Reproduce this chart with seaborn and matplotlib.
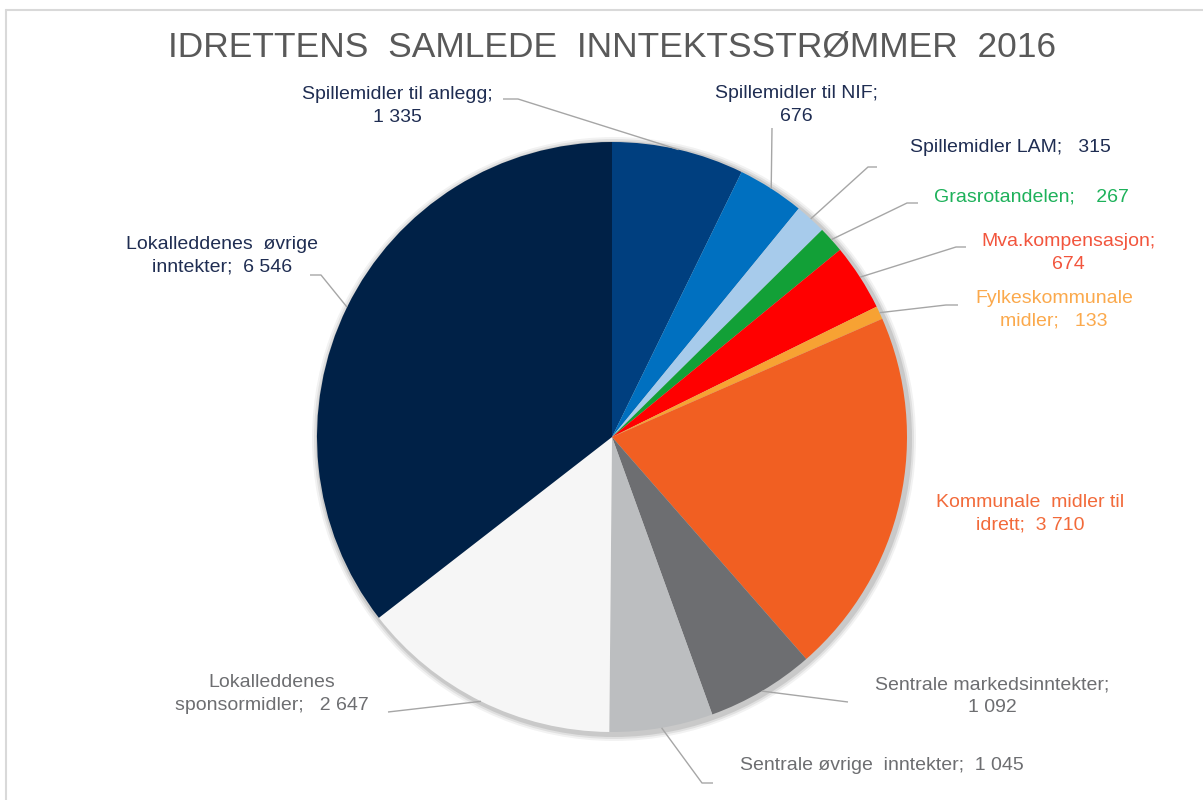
import numpy as np
import seaborn as sns
import matplotlib.pyplot as plt
from matplotlib.lines import Line2D

# data (mill. kr)
categories = ['Spillemidler til anlegg', 'Spillemidler til NIF', 'Spillemidler LAM',
              'Grasrotandelen', 'Mva.kompensasjon', 'Fylkeskommunale\nmidler',
              'Kommunale  midler til\nidrett', 'Sentrale markedsinntekter',
              'Sentrale øvrige  inntekter', 'Lokalleddenes\nsponsormidler',
              'Lokalleddenes  øvrige\ninntekter']
values = [1335, 676, 315, 267, 674, 133, 3710, 1092, 1045, 2647, 6546]
separators = [';\n', ';\n', ';   ', ';    ', ';\n', ';   ', ';  ', ';\n', ';  ', ';   ', ';  ']

slice_colors = ['#003F7F', '#0070C0', '#A7CBEB', '#12A037', '#FF0000', '#F7A233',
                '#F15F22', '#6D6E71', '#BCBEC0', '#F6F6F6', '#002147']
text_colors = ['#1F2D52', '#1F2D52', '#1F2D52', '#1DB15A', '#F2553D', '#FBA94C',
               '#F26A3A', '#6D6E71', '#6D6E71', '#6D6E71', '#1F2D52']

# layout in pixels (x, y from top)
label_pos = [(397, 106), (796, 105), (1010, 147), (1031, 197), (1068, 253), (1054, 310),
             (1030, 514), (992, 696), (882, 765), (272, 694), (222, 256)]
leader_end = [(503, 99), (772, 128), (877, 167), (918, 203), (966, 247), (958, 305),
              None, (848, 702), (713, 783), (388, 712), (310, 275)]
leader_elbow = [(518, 99), None, (868, 167), (907, 203), (956, 247), (946, 305),
                None, None, (702, 783), None, (321, 275)]

W, H = 1203, 800
cx, cy, R = 612, 437, 295

sns.set_theme(style='white')
plt.rcParams['font.family'] = ['Liberation Sans', 'DejaVu Sans']

fig = plt.figure(figsize=(W / 100, H / 100), dpi=100)
ax = fig.add_axes([0, 0, 1, 1])

# soft shadow behind the pie
for k, a in zip([7, 5, 3], [0.05, 0.07, 0.10]):
    ax.add_patch(plt.Circle((cx + 2, H - cy - 2), R + k, color='#000000', alpha=a, lw=0))

wedges, _ = ax.pie(values, colors=slice_colors, startangle=90, counterclock=False,
                   center=(cx, H - cy), radius=R, frame=True,
                   wedgeprops=dict(linewidth=0))
ax.set_xlim(0, W)
ax.set_ylim(0, H)
ax.set_aspect('equal')
ax.axis('off')

for i, w in enumerate(wedges):
    label = categories[i] + separators[i] + f'{values[i]:,}'.replace(',', ' ')
    lx, ly = label_pos[i]
    ax.text(lx, H - ly, label, ha='center', va='center', fontsize=14,
            color=text_colors[i], linespacing=1.45)
    if leader_end[i] is None:
        continue
    mid = np.deg2rad((w.theta1 + w.theta2) / 2)
    px, py = cx + R * np.cos(mid), (H - cy) + R * np.sin(mid)
    xs, ys = [px], [py]
    if leader_elbow[i] is not None:
        xs.append(leader_elbow[i][0]); ys.append(H - leader_elbow[i][1])
    xs.append(leader_end[i][0]); ys.append(H - leader_end[i][1])
    ax.plot(xs, ys, color='#A6A6A6', lw=1.0, solid_capstyle='butt')

ax.text(W / 2 + 11, H - 47, 'IDRETTENS  SAMLEDE  INNTEKTSSTRØMMER  2016',
        ha='center', va='center', fontsize=25.5, color='#595959')

# chart frame
fig.add_artist(Line2D([6 / W, 1], [1 - 10 / H, 1 - 10 / H], color='#D9D9D9', lw=1.5))
fig.add_artist(Line2D([6 / W, 6 / W], [0, 1 - 10 / H], color='#D9D9D9', lw=1.5))

fig.savefig('out.png', dpi=100, facecolor='white')
